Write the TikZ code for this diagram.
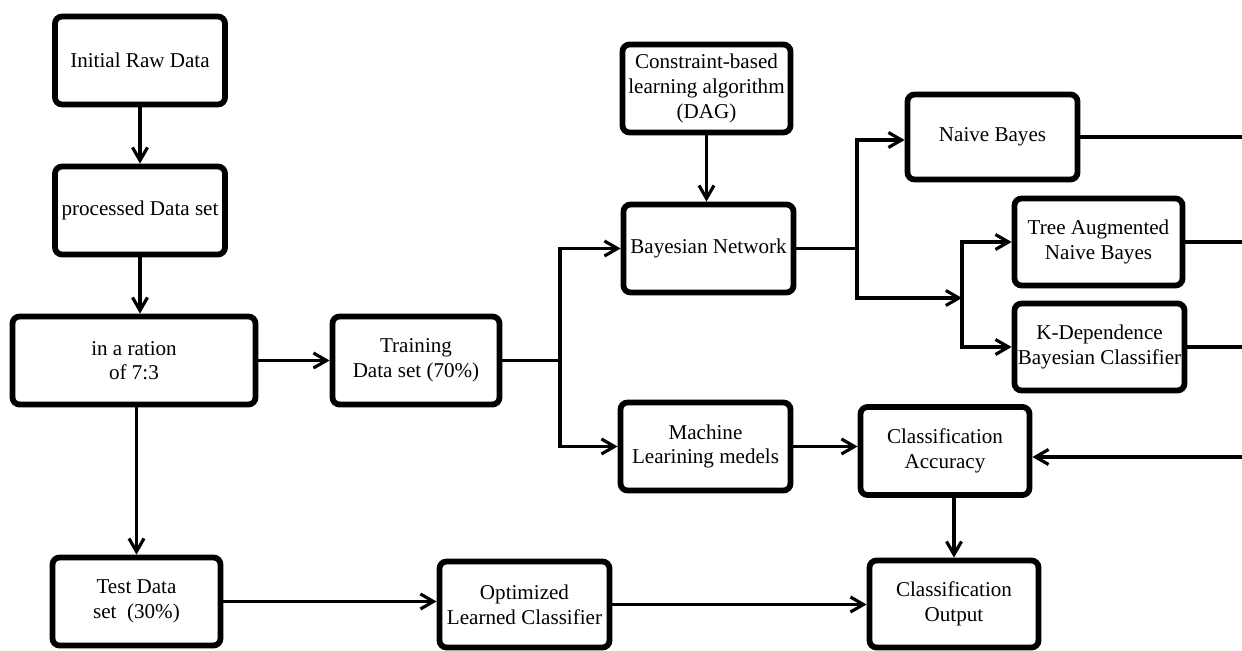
\documentclass[tikz,border=0pt]{standalone}
\usepackage{fontspec}
\setmainfont{Liberation Serif}
\usetikzlibrary{arrows.meta}
\usetikzlibrary{positioning}

\begin{document}
\begin{tikzpicture}[>={Straight Barb[length=2.6mm,width=3mm]},line width=1.8pt,
	block/.style={rectangle,draw,rounded corners=4pt,line width=3.3pt,align=center,
		font=\fontsize{12}{14}\selectfont,inner sep=1pt,minimum width=3.4cm,minimum height=1.76cm}]
	
	\useasboundingbox (0,0) rectangle (24.84,-13.02);
	
	\node[block] (raw) at (2.8,-1.21) {Initial Raw Data};
	\node[block] (proc) at (2.8,-4.21) {processed Data set};
	\node[block,minimum width=4.86cm] (ratio) at (2.68,-7.21) {in a ration\\of 7:3};
	\node[block,minimum width=3.36cm] (test) at (2.73,-12.03) {Test Data\\set~ (30\%)};
	\node[block,minimum width=3.34cm] (train) at (8.32,-7.21) {Training\\Data set (70\%)};
	\node[block,minimum height=1.72cm] (opt) at (10.49,-12.09) {Optimized\\Learned Classifier};
	\node[block,minimum width=3.36cm] (con) at (14.13,-1.77) {Constraint-based\\learning algorithm\\(DAG)};
	\node[block] (bn) at (14.17,-4.97) {Bayesian Network};
	\node[block] (mlm) at (14.11,-8.93) {Machine\\Learining medels};
	\node[block,minimum height=1.7cm] (nb) at (19.85,-2.74) {Naive Bayes};
	\node[block,minimum width=3.36cm,minimum height=1.74cm] (tan) at (21.97,-4.84) {Tree Augmented\\Naive Bayes};
	\node[block,minimum height=1.74cm] (kdb) at (21.99,-6.94) {K-Dependence\\Bayesian Classifier};
	\node[block,minimum width=3.38cm] (ca) at (18.9,-9.02) {Classification\\Accuracy};
	\node[block,minimum width=3.38cm,minimum height=1.74cm] (co) at (19.08,-12.08) {Classification\\Output};
	
	\coordinate (split) at (11.2,-7.21);
	\coordinate (fork) at (17.14,-4.97);
	\coordinate (sub) at (19.24,-5.96);
	\coordinate (rim) at (24.84,0);
	\coordinate (back) at (24.84,-9.14);
	
	\path[->]
	(raw) edge (proc)
	(proc) edge (proc |- ratio.north)
	(ratio) edge (train)
	(ratio.south -| test) edge (test)
	(con) edge (con |- bn.north)
	(mlm.east) edge (mlm.east -| ca.west)
	(ca.south -| co) edge (co)
	(test.east) edge (test.east -| opt.west)
	(opt.east) edge (opt.east -| co.west);
	
	\draw (train) -- (split);
	\draw[->] (split) |- (bn);
	\draw[->] (split) |- (mlm);
	\draw (bn) -- (fork);
	\draw[->] (fork) |- ([yshift=-0.06cm]nb.west);
	\draw[->] (fork) |- (sub);
	\draw[->] (sub) |- (tan);
	\draw[->] (sub) |- (kdb);
	
	\draw (nb) -- (nb -| rim);
	\draw (tan) -- (tan -| rim);
	\draw (kdb) -- (kdb -| rim);
	\draw[->] (back) -- (back -| ca.east);
\end{tikzpicture}
\end{document}
